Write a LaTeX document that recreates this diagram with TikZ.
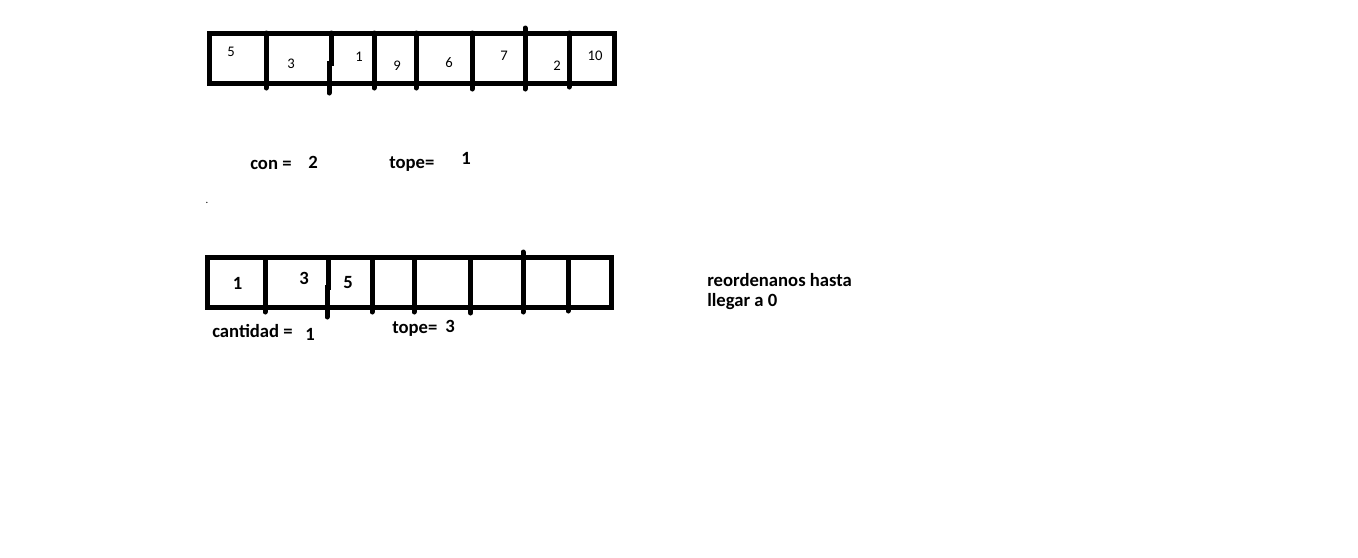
\documentclass[tikz,border=0pt]{standalone}
\usepackage{fontspec}
\setmainfont{Carlito}
\begin{document}
\begin{tikzpicture}[x=0.75pt,y=-0.75pt,
  box/.style={line width=3.75pt,line join=miter},
  divider/.style={line width=3.75pt,line cap=round},
  small/.style={font=\fontsize{11pt}{13pt}\selectfont,anchor=base,inner sep=0pt},
  lbl/.style={font=\fontsize{14pt}{16pt}\selectfont\bfseries,anchor=base west,inner sep=0pt},
  big/.style={font=\fontsize{14pt}{16pt}\selectfont\bfseries,anchor=base,inner sep=0pt}]
\useasboundingbox (0,0) rectangle (1358,557);
% top array
\draw[box] (209.5,33) rectangle (614,83.5);
\draw[divider] (266,33) -- (266,88);
\draw[divider] (331,33) -- (331,63) -- (329,63) -- (329,93);
\draw[divider] (374,33) -- (374,88);
\draw[divider] (416,33) -- (416,88);
\draw[divider] (472,33) -- (472,89);
\draw[divider] (525,28) -- (525,89);
\draw[divider] (569,33) -- (569,87);
\node[small] (t1) at (231,56.5) {5};
\node[small] (t2) at (291,68) {3};
\node[small] (t3) at (359,61.5) {1};
\node[small] (t4) at (397,70) {9};
\node[small] (t5) at (449,67.5) {6};
\node[small] (t6) at (504,60.5) {7};
\node[small] (t7) at (557,70) {2};
\node[small] (t8) at (595,60.5) {10};
% variables
\node[lbl] (con) at (250,169) {con =};
\node[lbl] (conv) at (308,168) {2};
\node[lbl] (tope1) at (389,168.5) {tope=};
\node[lbl] (tope1v) at (461,164) {1};
\node[font=\fontsize{8pt}{9pt}\selectfont,anchor=base,inner sep=0pt] (dot) at (207,203) {.};
% bottom array
\draw[box] (207.5,257.5) rectangle (611,307.5);
\draw[divider] (265,257.5) -- (265,312);
\draw[divider] (328.5,257.5) -- (328.5,287) -- (327,287) -- (327,317);
\draw[divider] (372,257.5) -- (372,312);
\draw[divider] (414,257.5) -- (414,312);
\draw[divider] (470,257.5) -- (470,287) -- (470.5,287) -- (470.5,313);
\draw[divider] (523,252) -- (523,312);
\draw[divider] (568,257.5) -- (568,311);
\node[big] (b1) at (237.5,289) {1};
\node[big] (b2) at (304,284) {3};
\node[big] (b3) at (348,288.5) {5};
\node[lbl] (cant) at (212,337) {cantidad =};
\node[lbl] (cantv) at (305,340) {1};
\node[lbl] (tope2) at (392,333) {tope=};
\node[lbl] (tope2v) at (445,332) {3};
\node[lbl] (note1) at (707,286) {reordenanos hasta};
\node[lbl] (note2) at (707,306.5) {llegar a 0};
\end{tikzpicture}
\end{document}
